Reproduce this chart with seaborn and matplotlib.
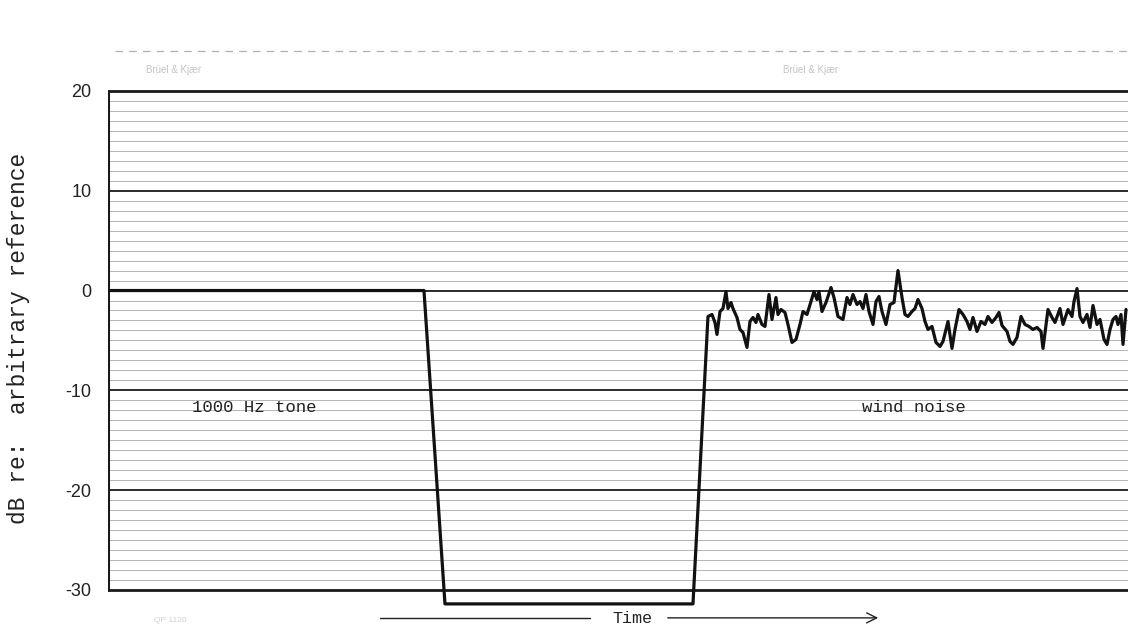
import numpy as np
import pandas as pd
import seaborn as sns
import matplotlib.pyplot as plt

# level recorder trace: 1000 Hz tone, gap, then wind noise (time in arbitrary units)
tone_time = [0.0, 31.6, 33.7, 58.5]
tone_level = [0.0, 0.0, -31.4, -31.4]

noise_time = [60.0, 60.4, 60.7, 60.9, 61.2, 61.5, 61.8, 62.0, 62.3, 62.5, 62.9, 63.2,
              63.5, 63.9, 64.2, 64.5, 64.8, 65.0, 65.4, 65.7, 66.1, 66.4, 66.8, 67.0,
              67.3, 67.7, 68.0, 68.4, 68.8, 69.2, 69.5, 69.9, 70.3, 70.6, 70.9, 71.1,
              71.4, 71.8, 72.3, 72.6, 73.0, 73.5, 73.9, 74.2, 74.5, 74.9, 75.2, 75.5,
              75.8, 76.1, 76.5, 76.8, 77.1, 77.4, 77.8, 78.2, 78.6, 79.0, 79.4, 79.7,
              80.0, 80.4, 80.7, 81.0, 81.4, 81.7, 82.0, 82.4, 82.8, 83.2, 83.5, 84.0,
              84.4, 84.7, 85.1, 85.5, 85.9, 86.2, 86.5, 86.9, 87.3, 87.7, 88.0, 88.4,
              88.8, 89.1, 89.4, 89.9, 90.2, 90.5, 90.9, 91.3, 91.7, 92.1, 92.5, 92.9,
              93.3, 93.5, 94.0, 94.4, 94.7, 95.2, 95.5, 96.0, 96.4, 96.6, 96.9, 97.2,
              97.5, 97.9, 98.2, 98.5, 98.9, 99.2, 99.6, 99.9, 100.2, 100.5, 100.8, 101.0,
              101.3, 101.5, 101.8]
noise_level = [-2.6, -2.4, -3.2, -4.4, -2.1, -1.8, -0.1, -1.8, -1.2, -1.8, -2.7, -3.9,
               -4.2, -5.7, -3.1, -2.7, -3.2, -2.4, -3.4, -3.6, -0.4, -2.9, -0.7, -2.4,
               -1.9, -2.2, -3.4, -5.2, -4.9, -3.4, -2.1, -2.4, -1.1, -0.1, -0.9, -0.1,
               -2.1, -1.2, 0.3, -0.7, -2.6, -2.9, -0.7, -1.4, -0.4, -1.4, -1.1, -1.8,
               -0.4, -2.1, -3.4, -1.1, -0.6, -2.1, -3.4, -1.4, -1.2, 2.0, -0.7, -2.4,
               -2.6, -2.1, -1.8, -0.9, -1.8, -3.1, -3.9, -3.6, -5.2, -5.6, -5.1, -3.1,
               -5.8, -3.9, -1.9, -2.4, -3.1, -3.9, -2.7, -4.1, -3.1, -3.4, -2.6, -3.2,
               -2.7, -2.2, -3.5, -4.1, -5.1, -5.4, -4.7, -2.6, -3.4, -3.6, -3.9, -3.7,
               -4.1, -5.8, -1.9, -2.7, -3.2, -1.8, -3.4, -1.9, -2.6, -1.1, 0.2, -2.6,
               -3.2, -2.4, -3.7, -1.5, -3.4, -2.9, -4.9, -5.4, -3.9, -2.9, -2.6, -3.4,
               -2.4, -5.4, -1.9]

major_ticks = [20, 10, 0, -10, -20, -30]
minor_ticks = [v for v in range(-30, 21) if v % 10 != 0]

df = pd.DataFrame({'time': tone_time + noise_time,
                   'level': tone_level + noise_level})

sns.set_style('white')
plt.rcParams['font.family'] = ['Liberation Sans', 'DejaVu Sans']

fig = plt.figure(figsize=(11.28, 6.32), dpi=100)
ax = fig.add_axes([0.0957, 0.0192, 0.9043, 0.8606])

# chart paper grid
for v in minor_ticks:
    ax.axhline(v, color='#a8a8a8', lw=0.6, zorder=1)
for v in major_ticks:
    w = 2.0 if v in (20, -30) else 1.3
    ax.axhline(v, color='#1a1a1a', lw=w, zorder=2)
ax.plot([0, 0], [-30, 20], color='#1a1a1a', lw=2.2, zorder=2)

sns.lineplot(data=df, x='time', y='level', sort=False, color='#111111',
             lw=2.3, ax=ax, zorder=3)

ax.set_xlim(0, 102)
ax.set_ylim(-33, 21.5)
for s in ax.spines.values():
    s.set_visible(False)
ax.set_xticks([])
ax.set_yticks(major_ticks)
ax.set_yticklabels([str(v) for v in major_ticks], fontsize=13, color='#222222')
ax.tick_params(axis='y', length=0, pad=12)
ax.set_xlabel('')
ax.set_ylabel('')

mono = ['Liberation Mono', 'DejaVu Sans Mono']
fig.text(0.016, 0.464, 'dB re:  arbitrary reference', rotation=90, family=mono,
         fontsize=16.5, color='#222222', ha='center', va='center')
ax.text(8.4, -11.7, '1000 Hz tone', family=mono, fontsize=12.5, color='#222222',
        va='center', ha='left')
ax.text(75.4, -11.7, 'wind noise', family=mono, fontsize=12.5, color='#222222',
        va='center', ha='left')

# time arrow below the chart
ax.text(52.4, -32.9, 'Time', family=mono, fontsize=12, color='#222222',
        ha='center', va='center', clip_on=False)
ax.plot([27.2, 48.2], [-32.8, -32.8], color='#222222', lw=1.0, clip_on=False)
ax.annotate('', xy=(77.3, -32.8), xytext=(55.7, -32.8),
            arrowprops=dict(arrowstyle='->', color='#222222', lw=1.0,
                            mutation_scale=18), annotation_clip=False)

# faint printing on the recorder paper
ax.plot([0.7, 102], [24.0, 24.0], color='#b0b0b0', lw=0.9, ls=(0, (6, 5)),
        clip_on=False)
ax.text(3.8, 21.8, 'Brüel & Kjær', fontsize=7, color='#c4c4c4', clip_on=False)
ax.text(67.5, 21.8, 'Brüel & Kjær', fontsize=7, color='#c4c4c4', clip_on=False)
ax.text(4.6, -33.1, 'QP 1120', fontsize=6, color='#d0d0d0', va='center',
        clip_on=False)

fig.savefig('out.png', dpi=100)
